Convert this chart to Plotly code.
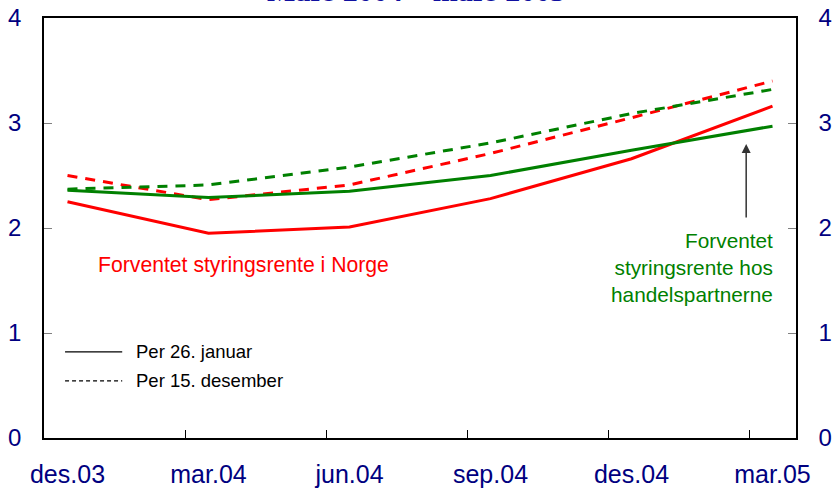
import plotly.graph_objects as go

# Categories (quarterly points on a monthly axis; 0 = des.03)
month_idx = [0, 3, 6, 9, 12, 15]
tick_labels = ["des.03", "mar.04", "jun.04", "sep.04", "des.04", "mar.05"]

# Expected policy rate (per cent)
norge_jan = [2.25, 1.95, 2.01, 2.28, 2.66, 3.16]      # Norge, per 26. januar
handel_jan = [2.36, 2.29, 2.35, 2.50, 2.74, 2.97]     # Handelspartnere, per 26. januar
norge_des = [2.50, 2.27, 2.41, 2.71, 3.05, 3.40]      # Norge, per 15. desember
handel_des = [2.37, 2.41, 2.58, 2.81, 3.09, 3.32]     # Handelspartnere, per 15. desember

y_ticks = [0, 1, 2, 3, 4]

RED = "#FF0000"
GREEN = "#008000"
NAVY = "#000080"
FONT = "Liberation Sans, Arial, sans-serif"

fig = go.Figure()
fig.add_trace(go.Scatter(x=month_idx, y=norge_des, mode="lines",
                         line=dict(color=RED, width=3, dash="10px,8px"), showlegend=False))
fig.add_trace(go.Scatter(x=month_idx, y=handel_des, mode="lines",
                         line=dict(color=GREEN, width=3, dash="10px,8px"), showlegend=False))
fig.add_trace(go.Scatter(x=month_idx, y=norge_jan, mode="lines",
                         line=dict(color=RED, width=3), showlegend=False))
fig.add_trace(go.Scatter(x=month_idx, y=handel_jan, mode="lines",
                         line=dict(color=GREEN, width=3), showlegend=False, yaxis="y2"))

axis_y = dict(range=[0, 4], tickvals=y_ticks, ticks="inside", ticklen=8, tickcolor="#808080",
              showgrid=False, zeroline=False, showline=True, linecolor="black", linewidth=1.5,
              tickfont=dict(family=FONT, size=24, color=NAVY), ticklabelstandoff=16,
              automargin=False)

fig.update_layout(
    width=832, height=492,
    margin=dict(l=44, r=36, t=18, b=54, autoexpand=False),
    paper_bgcolor="white", plot_bgcolor="white",
    xaxis=dict(range=[-0.5, 15.5], tickvals=month_idx, ticktext=tick_labels, ticks="",
               showgrid=False, zeroline=False, showline=True, mirror=True,
               linecolor="black", linewidth=1.5, automargin=False,
               tickfont=dict(family=FONT, size=25, color=NAVY), ticklabelstandoff=13,
               minor=dict(tickvals=[2.5, 5.5, 8.5, 11.5, 14.5], ticks="inside",
                          ticklen=8, tickcolor="black", showgrid=False)),
    yaxis=dict(axis_y, side="left"),
    yaxis2=dict(axis_y, side="right", overlaying="y"),
    showlegend=False,
)

# Legend drawn manually
fig.add_shape(type="line", xref="paper", yref="paper", x0=0.028, x1=0.104, y0=0.205, y1=0.205,
              line=dict(color="black", width=1.2))
fig.add_shape(type="line", xref="paper", yref="paper", x0=0.028, x1=0.104, y0=0.136, y1=0.136,
              line=dict(color="black", width=1.2, dash="4px,3px"))
fig.add_annotation(xref="paper", yref="paper", x=0.120, y=0.205, text="Per 26. januar",
                   showarrow=False, xanchor="left", yanchor="middle",
                   font=dict(family=FONT, size=18.5, color="black"))
fig.add_annotation(xref="paper", yref="paper", x=0.120, y=0.136, text="Per 15. desember",
                   showarrow=False, xanchor="left", yanchor="middle",
                   font=dict(family=FONT, size=18.5, color="black"))

# Series labels
fig.add_annotation(xref="paper", yref="paper", x=0.069, y=0.412,
                   text="Forventet styringsrente i Norge", showarrow=False,
                   xanchor="left", yanchor="middle", font=dict(family=FONT, size=21.2, color=RED))
fig.add_annotation(xref="paper", yref="paper", x=0.972, y=0.405,
                   text="Forventet<br>styringsrente hos<br>handelspartnerne", showarrow=False,
                   xanchor="right", yanchor="middle", align="right",
                   font=dict(family=FONT, size=20.8, color=GREEN))

# Arrow
fig.add_annotation(x=14.44, y=2.80, xref="x", yref="y", ax=0, ay=75, axref="pixel", ayref="pixel",
                   text="", showarrow=True, arrowhead=2, arrowsize=1.2, arrowwidth=1.5,
                   arrowcolor="#333333")

# Title, mostly cut off at the top
fig.add_annotation(xref="paper", yref="paper", x=0.495, y=1.065, text="<b>Mars 2004 – mars 2005</b>",
                   showarrow=False, xanchor="center", yanchor="middle",
                   font=dict(family="Liberation Serif, Times New Roman, serif", size=30, color="#1010A0"))

fig.write_html("out.html", config={"displayModeBar": False},
               post_script="document.body.style.margin='0';")
